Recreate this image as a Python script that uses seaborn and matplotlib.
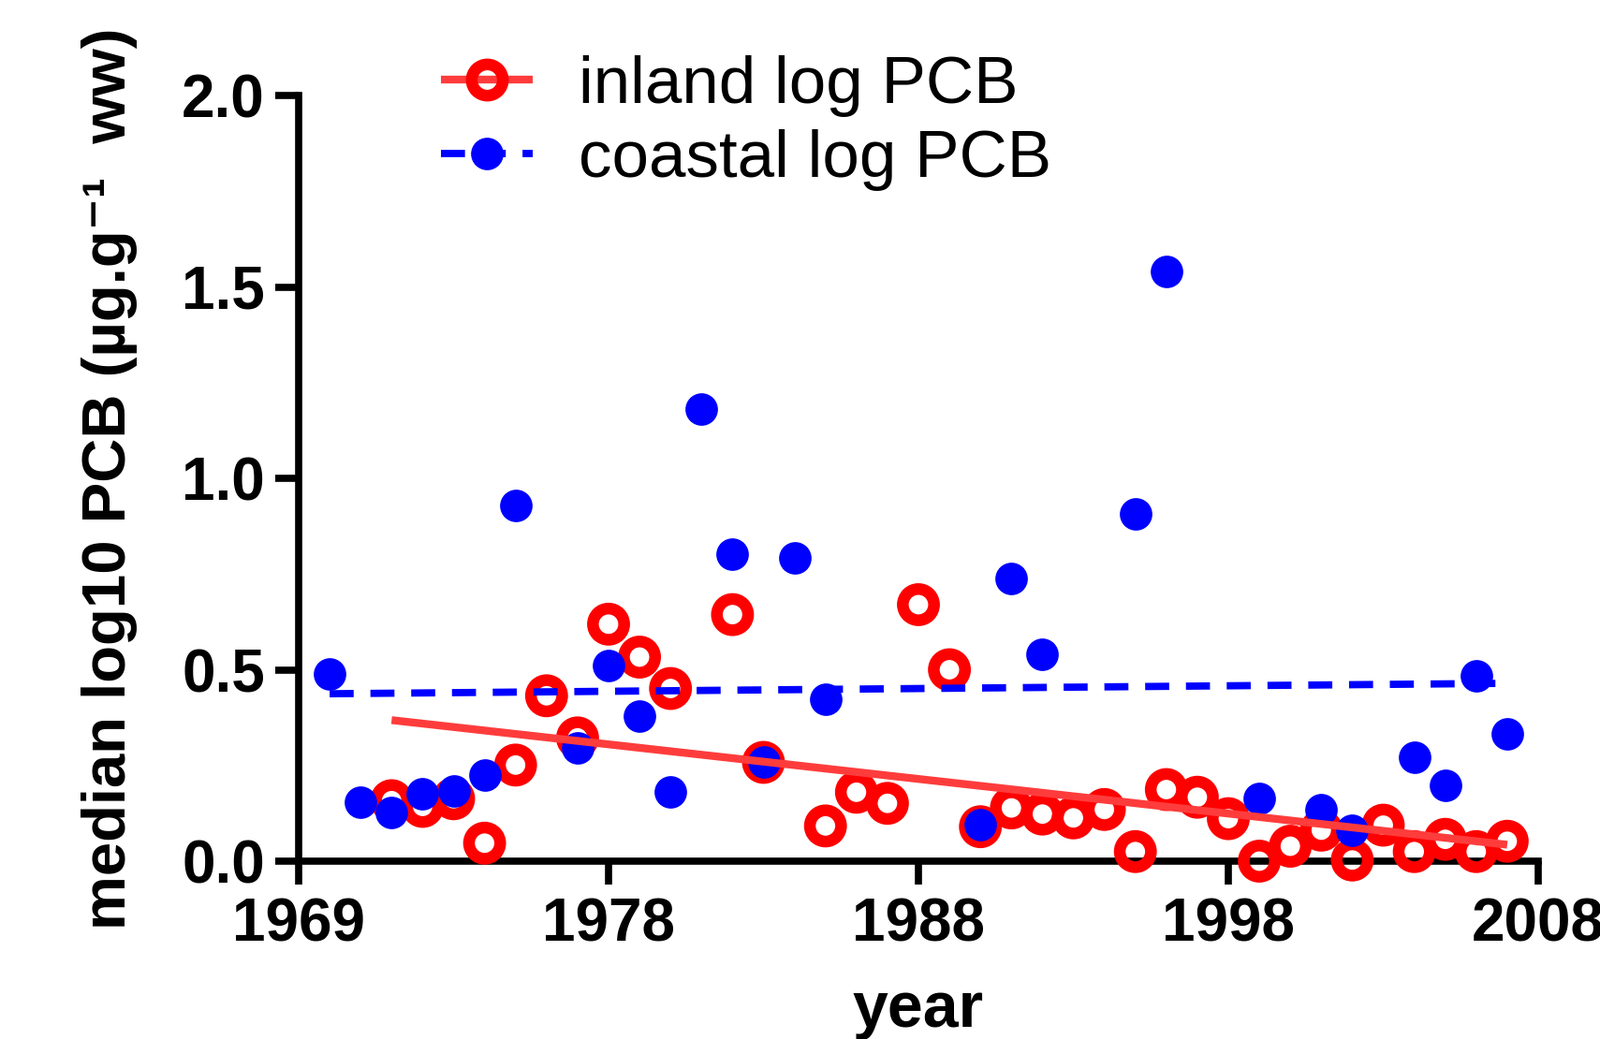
import numpy as np
import pandas as pd
import matplotlib
matplotlib.use("Agg")
import matplotlib.pyplot as plt
import seaborn as sns
from matplotlib.lines import Line2D

# ---- data ----
inland_years = [1971, 1972, 1973, 1974, 1975, 1976, 1977, 1978, 1979, 1980,
                1982, 1983, 1985, 1986, 1987, 1988, 1989, 1990, 1991, 1992,
                1993, 1994, 1995, 1996, 1997, 1998, 1999, 2000, 2001, 2002,
                2003, 2004, 2005, 2006, 2007]
inland_pcb = [0.158, 0.143, 0.163, 0.047, 0.251, 0.432, 0.322, 0.619, 0.533, 0.451,
              0.644, 0.258, 0.092, 0.180, 0.151, 0.670, 0.500, 0.090, 0.139, 0.123,
              0.113, 0.135, 0.025, 0.187, 0.167, 0.111, 0.000, 0.039, 0.081, 0.003,
              0.094, 0.025, 0.057, 0.025, 0.052]

coastal_years = [1969, 1970, 1971, 1972, 1973, 1974, 1975, 1977, 1978, 1979,
                 1980, 1981, 1982, 1983, 1984, 1985, 1990, 1991, 1992, 1995,
                 1996, 1999, 2001, 2002, 2004, 2005, 2006, 2007]
coastal_pcb = [0.490, 0.153, 0.126, 0.175, 0.184, 0.225, 0.929, 0.295, 0.512, 0.379,
               0.180, 1.181, 0.803, 0.258, 0.793, 0.424, 0.096, 0.739, 0.540, 0.908,
               1.540, 0.165, 0.135, 0.081, 0.271, 0.197, 0.483, 0.332]

x_tick_pos = [1968, 1978, 1988, 1998, 2008]
x_tick_labels = ["1969", "1978", "1988", "1998", "2008"]
y_ticks = [0.0, 0.5, 1.0, 1.5, 2.0]
y_tick_labels = ["0.0", "0.5", "1.0", "1.5", "2.0"]
series_labels = ["inland log PCB", "coastal log PCB"]

inland = pd.DataFrame({"year": inland_years, "pcb": inland_pcb})
coastal = pd.DataFrame({"year": coastal_years, "pcb": coastal_pcb})

# ---- style ----
sns.set_theme(style="ticks")
plt.rcParams["font.family"] = ["Liberation Sans", "DejaVu Sans"]
for k in ["text.color", "axes.labelcolor", "xtick.color", "ytick.color",
          "xtick.labelcolor", "ytick.labelcolor", "axes.edgecolor"]:
    plt.rcParams[k] = "black"

RED = "#ff0000"
RED_LINE = "#ff3c3c"
BLUE = "#0000ff"
RED_LW = 6.0
BLUE_LW = 5.6
DASH = (0, (3.3, 2.3))

fig = plt.figure(figsize=(17.09, 11.10), dpi=100)
ax = fig.add_axes([319 / 1709, 1 - 920 / 1110, (1643 - 319) / 1709, (920 - 102) / 1110])

ms_red, mew_red = 24, 9
ms_blue = 25

sns.scatterplot(data=inland, x="year", y="pcb", ax=ax, marker="o",
                s=ms_red ** 2, facecolors="none", edgecolor=RED, linewidth=mew_red,
                clip_on=False, zorder=3)
sns.scatterplot(data=coastal, x="year", y="pcb", ax=ax, marker="o",
                s=ms_blue ** 2, color=BLUE, linewidth=0, clip_on=False, zorder=4)

sns.regplot(data=inland, x="year", y="pcb", ax=ax, scatter=False, ci=None,
            truncate=True, line_kws=dict(color=RED_LINE, linewidth=RED_LW, zorder=5,
                                         solid_capstyle="butt"))
sns.regplot(data=coastal, x="year", y="pcb", ax=ax, scatter=False, ci=None,
            truncate=True, line_kws=dict(color=BLUE, linewidth=BLUE_LW, zorder=6,
                                         linestyle=DASH, dash_capstyle="butt"))

ax.set_xlim(1968, 2008)
ax.set_ylim(0, 2.0)
ax.set_xticks(x_tick_pos)
ax.set_xticklabels(x_tick_labels)
ax.set_yticks(y_ticks)
ax.set_yticklabels(y_tick_labels)

for s in ["top", "right"]:
    ax.spines[s].set_visible(False)
for s in ["left", "bottom"]:
    ax.spines[s].set_linewidth(5.5)
    ax.spines[s].set_color("black")
ax.tick_params(axis="both", which="major", length=18, width=5.5, color="black",
               labelcolor="black", labelsize=46, pad=8)
ax.tick_params(axis="x", pad=10)
for lab in ax.get_xticklabels() + ax.get_yticklabels():
    lab.set_fontweight("bold")

ax.set_xlabel("year", fontsize=49, fontweight="bold", color="black")
ax.set_ylabel("median log10 PCB (µg.g\u207b\u00b9  ww)", fontsize=47,
              fontweight="bold", color="black")
ax.xaxis.set_label_coords(0.5, -0.155)
ax.yaxis.set_label_coords(-0.13, 0.5)

handles = [
    Line2D([0], [0], color=RED_LINE, linewidth=RED_LW, marker="o", markersize=ms_red,
           markerfacecolor="none", markeredgecolor=RED, markeredgewidth=mew_red,
           solid_capstyle="butt"),
    Line2D([0], [0], color=BLUE, linewidth=BLUE_LW, linestyle=DASH, marker="o",
           markersize=ms_blue, markerfacecolor=BLUE, markeredgewidth=0,
           dash_capstyle="butt"),
]
fig.legend(handles, series_labels, loc="center left",
           bbox_to_anchor=(471 / 1709, 1 - 131.5 / 1110), bbox_transform=fig.transFigure,
           frameon=False, fontsize=51, handlelength=1.38, handletextpad=0.7,
           labelspacing=0.18, borderpad=0, borderaxespad=0, labelcolor="black")

fig.savefig("out.png", dpi=100)
